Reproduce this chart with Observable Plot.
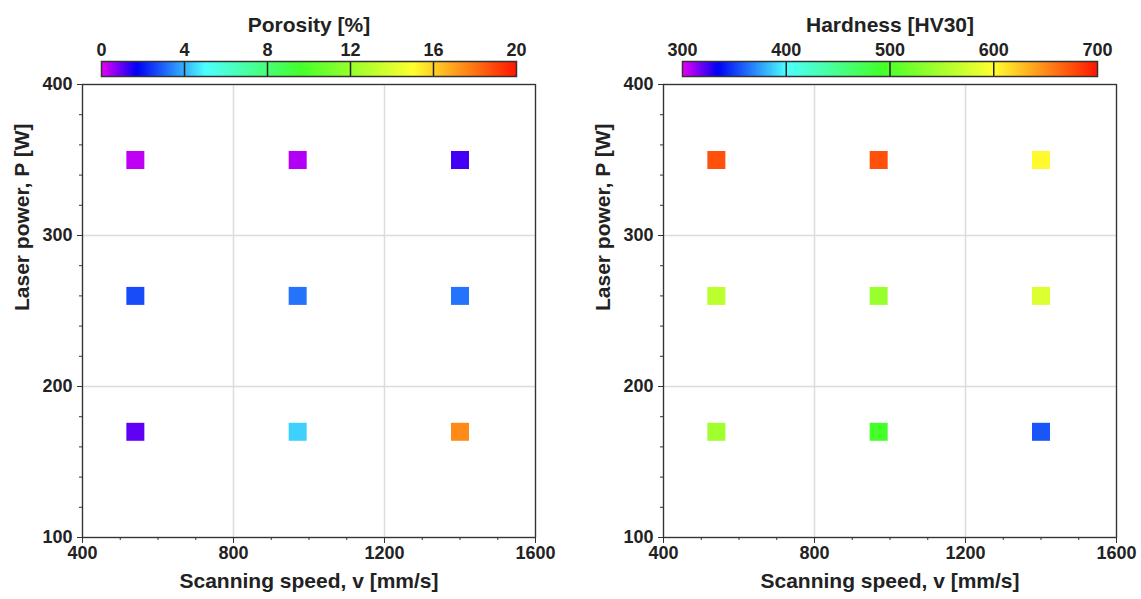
<!DOCTYPE html>
<html>
<head>
<meta charset="utf-8">
<script src="https://cdn.jsdelivr.net/npm/d3@7"></script>
<script src="https://cdn.jsdelivr.net/npm/@observablehq/plot@0.6"></script>
<style>
  html, body { margin: 0; padding: 0; background: #fff; }
  #fig { position: relative; width: 1141px; height: 599px; overflow: hidden; }
  #fig > div { position: absolute; }
  svg { overflow: visible; }
</style>
</head>
<body>
<div id="fig"></div>
<script>
// ---- data ----
const speed    = [540, 970, 1400, 540, 970, 1400, 540, 970, 1400];
const power    = [350, 350, 350, 260, 260, 260, 170, 170, 170];
const porosity = [0.3, 0.4, 1.2, 2.7, 3.2, 3.2, 1.0, 4.4, 17.5];
const hardness = [675, 675, 602, 561, 541, 580, 545, 492, 356];

const porosityTicks = [0, 4, 8, 12, 16, 20];
const hardnessTicks = [300, 400, 500, 600, 700];
const xMajor = [400, 800, 1200, 1600];
const xMinor = d3.range(400, 1601, 100);
const yMajor = [100, 200, 300, 400];
const yMinor = d3.range(100, 401, 20);

const xTitle = "Scanning speed, v [mm/s]";
const yTitle = "Laser power, P [W]";

// rainbow colormap (magenta → blue → cyan → green → yellow → red)
const rampStops  = [0, 0.085, 0.25, 0.48, 0.75, 1];
const rampColors = ["#e800f5", "#0000f5", "#4cffff", "#44ff2a", "#ffff30", "#ff1500"];
const rainbowScale = d3.scaleLinear().domain(rampStops).range(rampColors).interpolate(d3.interpolateRgb).clamp(true);
const rainbow = t => rainbowScale(t);

const FONT = "'Liberation Sans', Arial, Helvetica, sans-serif";
const baseStyle = {fontFamily: FONT, fontSize: "18px", fontWeight: "bold", color: "#222", background: "transparent", overflow: "visible", maxWidth: "none"};
const fmt = d3.format("d");

function colorbar({domain, ticks, title, width, marginRight}) {
  return Plot.plot({
    width, height: 80,
    marginLeft: 101, marginRight, marginTop: 61, marginBottom: 4,
    style: baseStyle,
    x: {domain, axis: null, label: null},
    y: {domain: [0, 1], axis: null, label: null},
    color: {type: "linear", domain, interpolate: rainbow},
    marks: [
      Plot.raster({x1: domain[0], x2: domain[1], y1: 0, y2: 1, fill: (x, y) => x}),
      Plot.ruleX(ticks.slice(1, -1), {stroke: "#222", strokeWidth: 1.5}),
      Plot.frame({stroke: "#333", strokeWidth: 1.5}),
      Plot.axisX(ticks, {anchor: "top", tickSize: 0, tickPadding: 6, label: null, fontSize: 18, tickFormat: fmt}),
      Plot.text([title], {frameAnchor: "top", dy: -44, fontSize: 21, fill: "#222"})
    ]
  });
}

function panel({values, domain, width, marginRight}) {
  const data = speed.map((s, i) => ({speed: s, power: power[i], value: values[i]}));
  return Plot.plot({
    width, height: 519,
    marginLeft: 82, marginRight, marginTop: 4, marginBottom: 62,
    style: baseStyle,
    x: {domain: [400, 1600], axis: null, label: null},
    y: {domain: [100, 400], axis: null, label: null},
    color: {type: "linear", domain, interpolate: rainbow},
    marks: [
      Plot.gridX(xMajor, {stroke: "#dcdcdc", strokeOpacity: 1, strokeWidth: 1.5}),
      Plot.gridY(yMajor, {stroke: "#dcdcdc", strokeOpacity: 1, strokeWidth: 1.5}),
      Plot.dot(data, {x: "speed", y: "power", fill: "value", symbol: "square", r: 10.15}),
      Plot.axisX(xMinor, {tickSize: 3, tickFormat: () => "", label: null, stroke: "#333"}),
      Plot.axisX(xMajor, {tickSize: 6, tickPadding: 3, label: null, stroke: "#333", fontSize: 18, tickFormat: fmt}),
      Plot.axisY(yMinor, {tickSize: 3, tickFormat: () => "", label: null, stroke: "#333"}),
      Plot.axisY(yMajor, {tickSize: 5, tickPadding: 5, label: null, stroke: "#333", fontSize: 18, tickFormat: fmt}),
      Plot.frame({stroke: "#333", strokeWidth: 1.3}),
      Plot.text([xTitle], {frameAnchor: "bottom", dy: 50, fontSize: 21, fill: "#222"}),
      Plot.text([yTitle], {frameAnchor: "left", dx: -60, rotate: -90, fontSize: 21, fill: "#222"})
    ]
  });
}

const fig = document.getElementById("fig");
function place(node, left, top) {
  const d = document.createElement("div");
  d.style.left = left + "px";
  d.style.top = top + "px";
  d.appendChild(node);
  fig.appendChild(d);
}

place(panel({values: porosity, domain: [0, 20], width: 570, marginRight: 35}), 0, 80);
place(panel({values: hardness, domain: [300, 700], width: 560, marginRight: 25}), 581, 80);
place(colorbar({domain: [0, 20], ticks: porosityTicks, title: "Porosity [%]", width: 570, marginRight: 54}), 0, 0);
place(colorbar({domain: [300, 700], ticks: hardnessTicks, title: "Hardness [HV30]", width: 560, marginRight: 44}), 581, 0);
</script>
</body>
</html>
